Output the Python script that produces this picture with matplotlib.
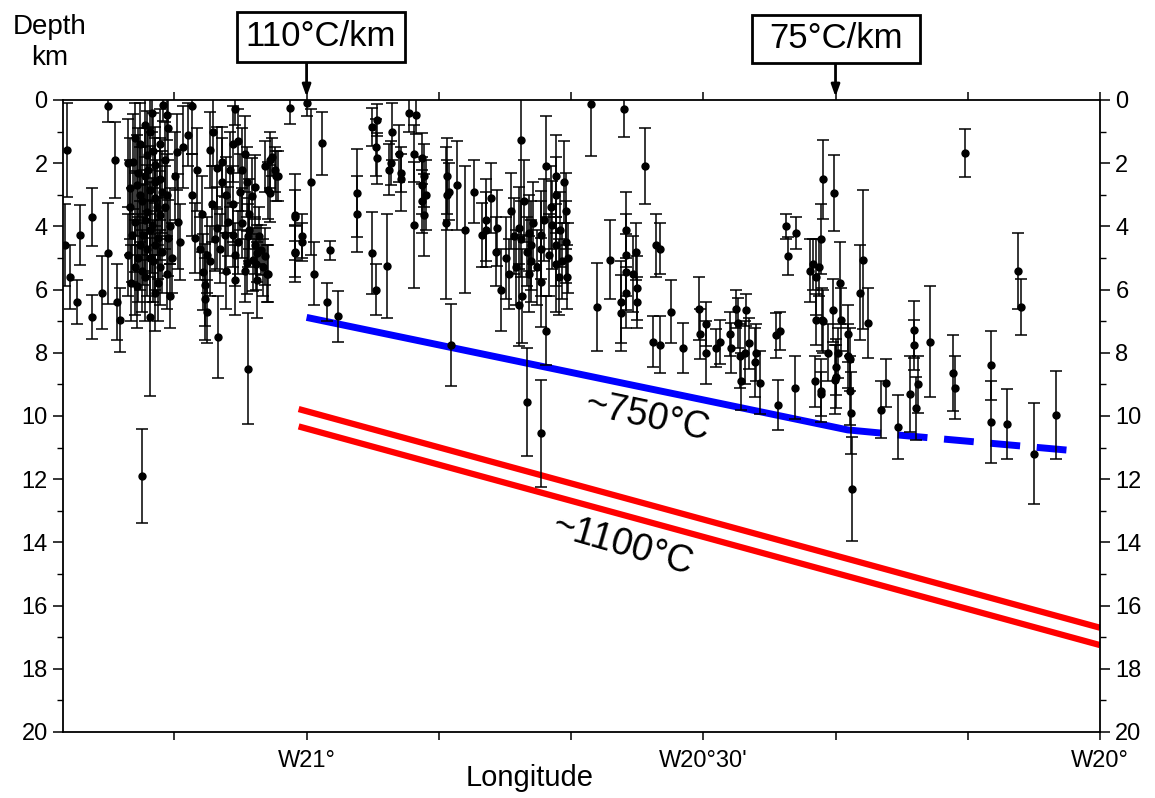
import numpy as np
import matplotlib
matplotlib.use('Agg')
import matplotlib.pyplot as plt
from matplotlib.patches import Rectangle
from matplotlib.ticker import FixedLocator, FixedFormatter, MultipleLocator

plt.rcParams['font.family'] = ['Liberation Sans', 'DejaVu Sans']

# hypocentres: longitude (deg, west negative), depth (km), depth error (km)
lon = [
    # far west
    -21.302, -21.304, -21.298, -21.285, -21.289, -21.270, -21.270, -21.250, -21.242, -21.258, -21.250, -21.235, -21.239, -21.207,
    # dense cluster
    -21.195, -21.181, -21.176, -21.175, -21.197, -21.210, -21.185, -21.201, -21.219, -21.191, -21.204, -21.185, -21.214, -21.197,
    -21.191, -21.207, -21.201, -21.185, -21.216, -21.195, -21.206, -21.187, -21.201, -21.212, -21.193, -21.216, -21.185, -21.204,
    -21.214, -21.191, -21.172, -21.222, -21.220, -21.176, -21.175, -21.176, -21.197, -21.162, -21.163, -21.166, -21.156,
    -21.225, -21.222, -21.225, -21.221, -21.216, -21.212, -21.210, -21.210, -21.207, -21.204, -21.204, -21.200, -21.197, -21.197,
    -21.193, -21.191, -21.191, -21.188, -21.187, -21.182, -21.182, -21.178, -21.178, -21.172, -21.170,
    -21.144, -21.150, -21.144, -21.160, -21.141, -21.134, -21.126, -21.122, -21.131, -21.128, -21.128, -21.126, -21.112, -21.122,
    -21.118, -21.113, -21.106, -21.107, -21.101, -21.093, -21.090, -21.093, -21.099, -21.113, -21.103, -21.093, -21.109, -21.090,
    -21.101, -21.090, -21.074,
    -21.138, -21.132, -21.119, -21.116, -21.097, -21.084, -21.072, -21.078, -21.060, -21.055, -21.072, -21.064,
    -21.078, -21.082, -21.075, -21.069, -21.082, -21.074, -21.065, -21.062, -21.068, -21.057, -21.053, -21.075, -21.087, -21.063,
    -21.049, -21.065, -21.053, -21.046, -21.040, -21.043, -21.036, -21.049, -21.087, -21.050, -21.021, -21.015, -21.015, -21.006,
    -21.006, -21.046, -21.038,
    # east of W21
    -20.999, -20.994, -20.980, -21.014, -21.014, -20.991, -20.971, -20.974, -20.960, -20.937, -20.937, -20.917, -20.912, -20.899,
    -20.917, -20.912, -20.911, -20.892, -20.896, -20.883, -20.881, -20.871, -20.864, -20.911, -20.893, -20.881,
    -20.862, -20.864, -20.854, -20.852, -20.854, -20.854, -20.852, -20.849, -20.823, -20.823, -20.810, -20.824, -20.820, -20.800,
    -20.789, -20.818, -20.774, -20.774, -20.779, -20.768, -20.760, -20.761, -20.749, -20.755, -20.745, -20.736, -20.730, -20.732,
    -20.730, -20.732, -20.729, -20.720, -20.717, -20.722, -20.717, -20.720, -20.722, -20.704, -20.698, -20.701, -20.704, -20.705,
    -20.704, -20.698, -20.686, -20.686, -20.691, -20.686, -20.686, -20.682, -20.676, -20.673, -20.673, -20.670, -20.678,
    -20.742, -20.739, -20.726, -20.714, -20.709, -20.695, -20.692, -20.680, -20.672,
    -20.641, -20.600, -20.574, -20.634, -20.617, -20.604, -20.604, -20.597, -20.598, -20.597, -20.597, -20.585, -20.588, -20.584,
    -20.584, -20.559, -20.554, -20.563, -20.554, -20.541, -20.525, -20.505, -20.504, -20.496, -20.496, -20.484, -20.479, -20.466,
    -20.465, -20.459, -20.456, -20.454, -20.452, -20.446, -20.443, -20.447, -20.433, -20.435, -20.428,
    -20.408, -20.403, -20.393, -20.396, -20.383, -20.406, -20.384, -20.366, -20.362, -20.358, -20.354, -20.358, -20.349, -20.349,
    -20.335, -20.352, -20.359, -20.352, -20.343, -20.334, -20.337, -20.328, -20.327, -20.318, -20.315, -20.314, -20.312, -20.330,
    -20.333, -20.333, -20.318, -20.315, -20.299, -20.303, -20.293, -20.350, -20.352,
    -20.276, -20.270, -20.255, -20.234, -20.234, -20.240, -20.230, -20.232, -20.214, -20.185, -20.183, -20.170, -20.138, -20.137,
    -20.117, -20.103, -20.100, -20.083, -20.055,
]
depth = [
    1.58, 4.6, 5.6, 4.27, 6.4, 3.7, 6.87, 0.2, 1.9, 6.1, 4.85, 6.96, 6.4, 11.9,
    0.4, 0.15, 0.47, 0.9, 1.0, 1.4, 1.4, 1.75, 1.95, 2.05, 2.4, 2.5, 2.7, 2.85,
    3.1, 3.2, 3.55, 3.65, 3.85, 3.96, 4.27, 4.37, 4.7, 5.0, 5.1, 5.3, 5.3, 5.6,
    5.9, 6.1, 6.2, 2.8, 4.27, 3.0, 4.37, 5.5, 6.87, 3.85, 1.65, 2.4, 1.5,
    2.0, 3.4, 4.9, 5.8, 1.2, 2.3, 3.0, 4.6, 5.4, 0.8, 3.8, 2.2, 4.1, 5.0,
    1.6, 2.6, 4.6, 3.4, 5.8, 2.9, 4.8, 1.9, 3.4, 4.0, 5.0,
    0.2, 1.1, 3.0, 4.5, 4.37, 4.7, 4.9, 5.1, 5.45, 5.85, 6.3, 6.7, 7.5, 1.58,
    1.0, 2.15, 1.95, 2.6, 3.0, 1.4, 0.3, 3.3, 3.85, 4.05, 4.27, 4.27, 4.7, 4.9,
    5.4, 5.7, 8.5,
    2.2, 3.6, 3.3, 4.4, 2.2, 2.9, 3.6, 5.4, 4.3, 5.3, 4.1, 5.2,
    1.7, 2.2, 2.6, 3.05, 3.9, 4.3, 4.6, 4.85, 5.05, 4.75, 4.95, 5.15, 4.5, 5.7,
    5.5, 2.75, 2.1, 1.9, 2.2, 1.8, 2.4, 2.85, 1.3, 5.5, 0.26, 3.7, 4.85, 4.3,
    4.5, 2.95, 2.4,
    0.1, 2.6, 1.37, 3.65, 4.8, 5.5, 4.75, 6.4, 6.85, 2.95, 3.6, 4.85, 6.0, 5.25,
    0.85, 1.5, 0.63, 1.0, 2.2, 1.7, 2.5, 0.4, 3.96, 1.85, 2.0, 2.3,
    0.47, 1.7, 1.85, 2.4, 2.7, 3.2, 3.65, 3.0, 2.4, 3.0, 2.7, 3.9, 2.9, 4.1,
    2.9, 7.75, 3.8, 4.1, 4.27, 3.1, 4.05, 4.8, 5.0, 6.0, 5.5, 5.3, 1.27, 4.05,
    4.4, 6.5, 6.2, 4.2, 4.6, 4.8, 5.1, 5.5, 9.55, 10.55, 2.1, 3.8, 4.27, 4.7,
    5.77, 7.3, 2.4, 3.0, 3.96, 4.6, 5.2, 5.6, 2.6, 3.5, 4.5, 5.0, 5.1,
    3.5, 4.3, 3.2, 3.9, 5.3, 4.9, 3.4, 4.1, 5.6,
    0.12, 0.27, 2.1, 6.55, 5.05, 6.4, 6.75, 4.1, 4.9, 5.45, 6.1, 4.8, 5.5, 5.95,
    6.4, 4.6, 4.7, 7.65, 7.75, 6.7, 7.85, 6.6, 7.4, 7.1, 8.0, 7.85, 7.65, 7.4,
    7.85, 6.6, 7.05, 8.1, 8.9, 6.65, 7.7, 8.0, 8.0, 8.3, 8.95,
    7.45, 7.3, 4.95, 4.0, 4.2, 9.65, 9.1, 5.4, 5.2, 5.6, 5.3, 6.95, 7.0, 2.5,
    2.95, 4.4, 8.9, 9.2, 8.0, 8.85, 6.65, 5.8, 6.95, 8.1, 9.2, 9.9, 12.3, 8.0,
    8.45, 8.75, 7.4, 8.2, 5.05, 6.1, 7.05, 6.95, 9.3,
    9.8, 8.95, 10.35, 7.27, 7.75, 9.3, 9.0, 9.75, 7.65, 8.65, 9.1, 1.68, 8.4, 10.2,
    10.25, 5.4, 6.55, 11.2, 9.97,
]
depth_err = [
    1.5, 1.3, 1.0, 0.95, 0.7, 0.93, 0.7, 0.5, 1.2, 1.15, 1.6, 1.0, 1.2, 1.5,
    0.6, 0.5, 0.8, 1.0, 1.2, 1.3, 1.1, 1.4, 1.5, 1.2, 1.5, 1.3, 1.6, 1.4,
    1.5, 1.7, 1.5, 1.4, 1.6, 1.5, 1.6, 1.3, 1.5, 1.4, 1.3, 1.5, 1.2, 1.4,
    1.3, 1.2, 1.0, 1.6, 1.5, 1.3, 1.2, 1.1, 2.5, 1.5, 1.2, 1.4, 1.3,
    1.4, 1.5, 1.3, 1.2, 1.1, 1.4, 1.5, 1.4, 1.3, 1.0, 1.6, 1.3, 1.5, 1.4,
    1.2, 1.4, 1.4, 1.5, 1.2, 1.3, 1.3, 1.2, 1.3, 1.2, 1.1,
    1.5, 1.0, 1.3, 1.2, 1.1, 1.0, 1.2, 1.1, 1.2, 1.3, 1.3, 1.0, 1.3, 1.2,
    1.1, 1.3, 1.1, 1.4, 1.2, 1.2, 0.5, 1.2, 1.1, 1.3, 1.2, 1.0, 1.1, 1.0,
    1.2, 1.1, 1.75,
    1.3, 1.2, 1.2, 1.0, 1.2, 1.2, 1.1, 1.0, 0.9, 0.9, 1.0, 0.8,
    1.2, 1.3, 1.1, 1.2, 1.1, 1.0, 0.9, 0.9, 1.0, 0.8, 0.9, 1.0, 1.0, 1.2,
    0.9, 1.0, 0.8, 0.9, 0.7, 0.6, 0.8, 0.9, 1.0, 0.9, 0.5, 1.35, 0.9, 0.7,
    0.6, 0.9, 0.8,
    0.4, 2.3, 1.0, 0.8, 0.8, 1.0, 0.3, 0.6, 0.8, 1.4, 1.2, 1.3, 0.8, 1.65,
    0.6, 0.9, 0.5, 0.9, 0.8, 0.9, 1.0, 0.6, 2.0, 0.8, 0.7, 0.6,
    0.6, 0.9, 0.8, 1.0, 0.9, 1.0, 1.3, 1.1, 1.2, 1.1, 1.4, 2.4, 0.9, 2.0,
    1.0, 1.3, 1.3, 1.2, 1.0, 1.1, 1.2, 1.1, 1.3, 1.3, 1.1, 1.2, 3.0, 1.3,
    1.2, 1.3, 1.5, 1.2, 1.4, 1.1, 1.3, 1.2, 1.7, 1.7, 1.6, 1.3, 1.4, 1.5,
    1.4, 1.1, 1.3, 1.2, 1.4, 1.3, 1.5, 1.2, 1.3, 1.2, 1.3, 1.1, 1.2,
    1.2, 1.2, 1.3, 1.3, 1.2, 1.3, 1.3, 1.2, 1.0,
    1.65, 0.9, 1.2, 1.4, 1.25, 1.3, 1.2, 1.2, 1.3, 1.2, 1.1, 0.9, 1.2, 1.0,
    0.8, 1.0, 0.8, 0.8, 0.9, 1.0, 0.8, 1.0, 0.8, 0.7, 1.0, 0.6, 0.7, 0.7,
    0.8, 0.6, 0.8, 1.0, 0.9, 0.5, 0.8, 1.0, 0.9, 1.1, 1.0,
    0.7, 0.6, 0.6, 0.4, 0.5, 0.8, 1.0, 1.0, 0.8, 1.2, 0.9, 0.8, 1.0, 1.25,
    1.2, 1.1, 0.8, 1.0, 0.9, 1.1, 1.0, 1.3, 1.0, 1.0, 1.1, 1.3, 1.65, 0.8,
    0.9, 1.0, 0.9, 1.0, 2.2, 1.5, 1.1, 1.0, 0.7,
    0.9, 0.75, 1.0, 0.9, 0.8, 1.2, 0.9, 1.0, 1.75, 1.2, 1.0, 0.75, 1.1, 1.3,
    1.1, 1.2, 0.9, 1.6, 1.4,
]

# isotherms
iso750_lon = [-21.0, -20.318, -20.276]
iso750_dep = [6.88, 10.44, 10.54]
iso750_ext_lon = [-20.255, -20.041]
iso750_ext_dep = [10.6, 11.08]
iso1100_top_lon = [-21.01, -20.0]
iso1100_top_dep = [9.78, 16.7]
iso1100_bot_lon = [-21.01, -20.0]
iso1100_bot_dep = [10.33, 17.25]

# gradient markers
grad_labels = ['110°C/km', '75°C/km']
grad_lon = [-21.0, -20.0 - 1 / 3]

x_ticks = [-21.0 - 1 / 6, -21.0, -21.0 + 1 / 6, -21.0 + 2 / 6, -20.5, -20.5 + 1 / 6, -20.5 + 2 / 6, -20.0]
x_ticklabels = ['', 'W21°', '', '', "W20°30'", '', '', 'W20°']

W, H = 1155, 798
fig = plt.figure(figsize=(W / 100, H / 100), dpi=100)
ax = fig.add_axes([63 / W, 1 - 732 / H, (1100 - 63) / W, (732 - 100) / H])

ax.errorbar(lon, depth, yerr=depth_err, fmt='o', color='k', ms=5,
            elinewidth=1.1, capsize=4.5, capthick=1.1, zorder=3)

ax.plot(iso750_lon, iso750_dep, color='#0000ff', lw=5, solid_capstyle='butt', zorder=2)
ax.plot(iso750_ext_lon, iso750_ext_dep, color='#0000ff', lw=5, dashes=(4.3, 2.4), zorder=2)
ax.plot(iso1100_top_lon, iso1100_top_dep, color='#ff0000', lw=4.5, solid_capstyle='butt', zorder=2)
ax.plot(iso1100_bot_lon, iso1100_bot_dep, color='#ff0000', lw=4.5, solid_capstyle='butt', zorder=2)

ax.text(-20.571, 10.03, '~750°C', fontsize=27, rotation=-12, ha='center', va='center',
        rotation_mode='anchor')
ax.text(-20.602, 14.08, '~1100°C', fontsize=27, rotation=-16, ha='center', va='center',
        rotation_mode='anchor')

ax.set_xlim(-21.307, -20.0)
ax.set_ylim(20, 0)

ax.xaxis.set_major_locator(FixedLocator(x_ticks))
ax.xaxis.set_major_formatter(FixedFormatter(x_ticklabels))
ax.yaxis.set_major_locator(MultipleLocator(2))
ax.yaxis.set_minor_locator(MultipleLocator(1))
ax.tick_params(axis='x', which='both', direction='out', top=True, length=6, width=1.1,
               labelsize=17, pad=7)
ax.tick_params(axis='y', which='major', direction='out', right=True, labelright=True,
               length=7, width=1.1, labelsize=17, pad=4)
ax.tick_params(axis='y', which='minor', direction='out', right=True, length=4, width=1.0)
for s in ax.spines.values():
    s.set_linewidth(1.3)

fig.text(50 / W, 1 - 27 / H, 'Depth', fontsize=20, ha='center', va='center')
fig.text(50 / W, 1 - 58 / H, 'km', fontsize=20, ha='center', va='center')
fig.text(530 / W, 1 - 778 / H, 'Longitude', fontsize=21, ha='center', va='center')

# gradient boxes with arrows
boxes = [(237, 12, 405, 62), (752, 15, 920, 63)]
for lab, glon, (x0, y0, x1, y1) in zip(grad_labels, grad_lon, boxes):
    fig.patches.append(Rectangle((x0 / W, 1 - y1 / H), (x1 - x0) / W, (y1 - y0) / H,
                                 transform=fig.transFigure, fc='white', ec='k', lw=2))
    fig.text((x0 + x1) / 2 / W, 1 - (y0 + y1) / 2 / H, lab, fontsize=25,
             ha='center', va='center')
    ytop = 1 + (100 - y1) / 632
    ax.annotate('', xy=(glon, 1.005), xycoords=('data', 'axes fraction'),
                xytext=(glon, ytop), textcoords=('data', 'axes fraction'),
                arrowprops=dict(arrowstyle='-|>,head_length=0.7,head_width=0.25',
                                color='k', lw=2, shrinkA=0, shrinkB=0),
                annotation_clip=False)

fig.savefig('out.png', dpi=100)
